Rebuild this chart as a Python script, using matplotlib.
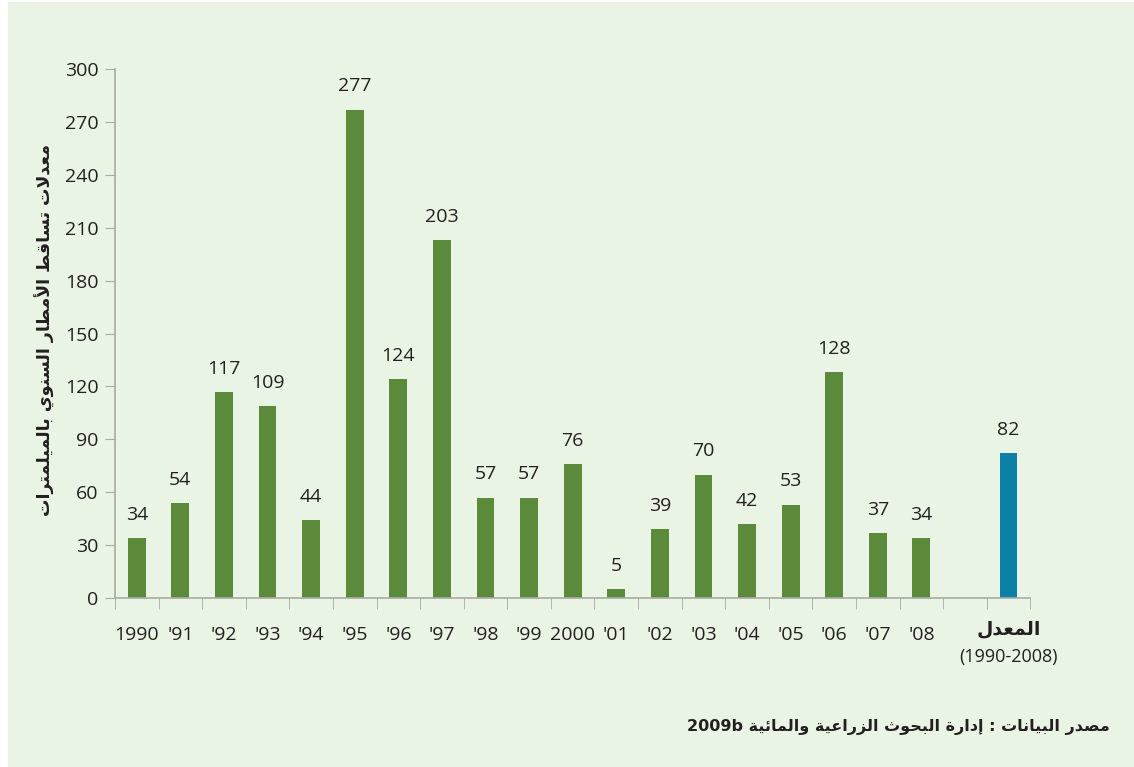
import matplotlib.pyplot as plt
from matplotlib.patches import Rectangle
import numpy as np

years = ["1990", "'91", "'92", "'93", "'94", "'95", "'96", "'97", "'98", "'99",
         "2000", "'01", "'02", "'03", "'04", "'05", "'06", "'07", "'08"]
rainfall = [34, 54, 117, 109, 44, 277, 124, 203, 57, 57,
            76, 5, 39, 70, 42, 53, 128, 37, 34]
average = 82
avg_label = "المعدل"
avg_period = "(1990-2008)"
y_title = "معدلات تساقط الأمطار السنوي بالميلمترات"
source = "مصدر البيانات : إدارة البحوث الزراعية والمائية 2009b"

# --- minimal Arabic shaping (matplotlib has no complex text layout) ---
BASE = {'آ': 0xFE81, 'أ': 0xFE83, 'ؤ': 0xFE85, 'إ': 0xFE87, 'ئ': 0xFE89,
        'ا': 0xFE8D, 'ب': 0xFE8F, 'ة': 0xFE93, 'ت': 0xFE95, 'ث': 0xFE99,
        'ج': 0xFE9D, 'ح': 0xFEA1, 'خ': 0xFEA5, 'د': 0xFEA9, 'ذ': 0xFEAB,
        'ر': 0xFEAD, 'ز': 0xFEAF, 'س': 0xFEB1, 'ش': 0xFEB5, 'ص': 0xFEB9,
        'ض': 0xFEBD, 'ط': 0xFEC1, 'ظ': 0xFEC5, 'ع': 0xFEC9, 'غ': 0xFECD,
        'ف': 0xFED1, 'ق': 0xFED5, 'ك': 0xFED9, 'ل': 0xFEDD, 'م': 0xFEE1,
        'ن': 0xFEE5, 'ه': 0xFEE9, 'و': 0xFEED, 'ى': 0xFEEF, 'ي': 0xFEF1}
TWO = set('آأؤإاةدذرزوى')
LAM_ALEF = {'آ': 0xFEF5, 'أ': 0xFEF7, 'إ': 0xFEF9, 'ا': 0xFEFB}


def shape_word(word):
    if not any(c in BASE for c in word):
        return word
    out = []
    i = 0
    prev = False
    while i < len(word):
        c = word[i]
        if c == 'ل' and i + 1 < len(word) and word[i + 1] in LAM_ALEF:
            out.append(chr(LAM_ALEF[word[i + 1]] + (1 if prev else 0)))
            prev = False
            i += 2
            continue
        if c not in BASE:
            out.append(c)
            prev = False
            i += 1
            continue
        b = BASE[c]
        nxt = i + 1 < len(word) and word[i + 1] in BASE
        if c in TWO:
            out.append(chr(b + (1 if prev else 0)))
            prev = False
        else:
            f = 3 if (prev and nxt) else 1 if prev else 2 if nxt else 0
            out.append(chr(b + f))
            prev = True
        i += 1
    return ''.join(reversed(out))


def ar(text):
    return ' '.join(shape_word(w) for w in reversed(text.split(' ')))


bg = '#EAF4E4'
green = '#5C8A3B'
blue = '#0D80A5'
axis_col = '#A8ABA6'
txt = '#231F20'
num_font = ['Open Sans', 'DejaVu Sans']
ar_font = ['DejaVu Sans']

fig = plt.figure(figsize=(11.34, 7.67), dpi=100, facecolor='white')
fig.patches.append(Rectangle((8 / 1134, 0), 1, 1 - 2 / 767,
                             transform=fig.transFigure, facecolor=bg,
                             edgecolor='none', zorder=-10))
ax = fig.add_axes([0.1014, 0.2203, 0.8072, 0.6897])
ax.set_facecolor(bg)

n = len(years)
x = np.arange(n)
ax.bar(x, rainfall, width=0.41, color=green)
avg_x = n + 1
ax.bar([avg_x], [average], width=0.41, color=blue)

for xi, v in zip(list(x) + [avg_x], rainfall + [average]):
    ax.text(xi, v + 8, str(v), ha='center', va='bottom', fontsize=14,
            family=num_font, color=txt)

ax.set_xlim(-0.5, n + 1.5)
ax.set_ylim(0, 300)
ax.set_yticks(np.arange(0, 301, 30))
ax.tick_params(axis='y', labelsize=14, length=7, color=axis_col, pad=5,
               labelcolor=txt)
for lbl in ax.get_yticklabels():
    lbl.set_family(num_font)

ax.set_xticks(list(x), years)
ax.set_xticks(np.arange(-0.5, n + 1.6, 1), minor=True)
ax.tick_params(axis='x', which='major', length=0, labelsize=14, pad=20,
               labelcolor=txt)
ax.tick_params(axis='x', which='minor', length=8, color=axis_col)
for lbl in ax.get_xticklabels():
    lbl.set_family(num_font)

for s in ['top', 'right']:
    ax.spines[s].set_visible(False)
for s in ['left', 'bottom']:
    ax.spines[s].set_color(axis_col)
    ax.spines[s].set_linewidth(1.2)

ax.text(avg_x, -0.058, ar(avg_label), transform=ax.get_xaxis_transform(),
        ha='center', va='center', fontsize=13.5, fontweight='bold',
        family=ar_font, color=txt)
ax.text(avg_x, -0.112, avg_period, transform=ax.get_xaxis_transform(),
        ha='center', va='center', fontsize=13, family=num_font,
        color=txt)

fig.text(0.040, 0.57, ar(y_title), rotation=90, ha='center', va='center',
         fontsize=12.5, fontweight='bold', family=ar_font, color=txt)
fig.text(0.979, 0.052, ar(source), ha='right', va='center', fontsize=11.5,
         fontweight='bold', family=ar_font, color=txt)

fig.savefig('out.png', dpi=100, facecolor='white')
